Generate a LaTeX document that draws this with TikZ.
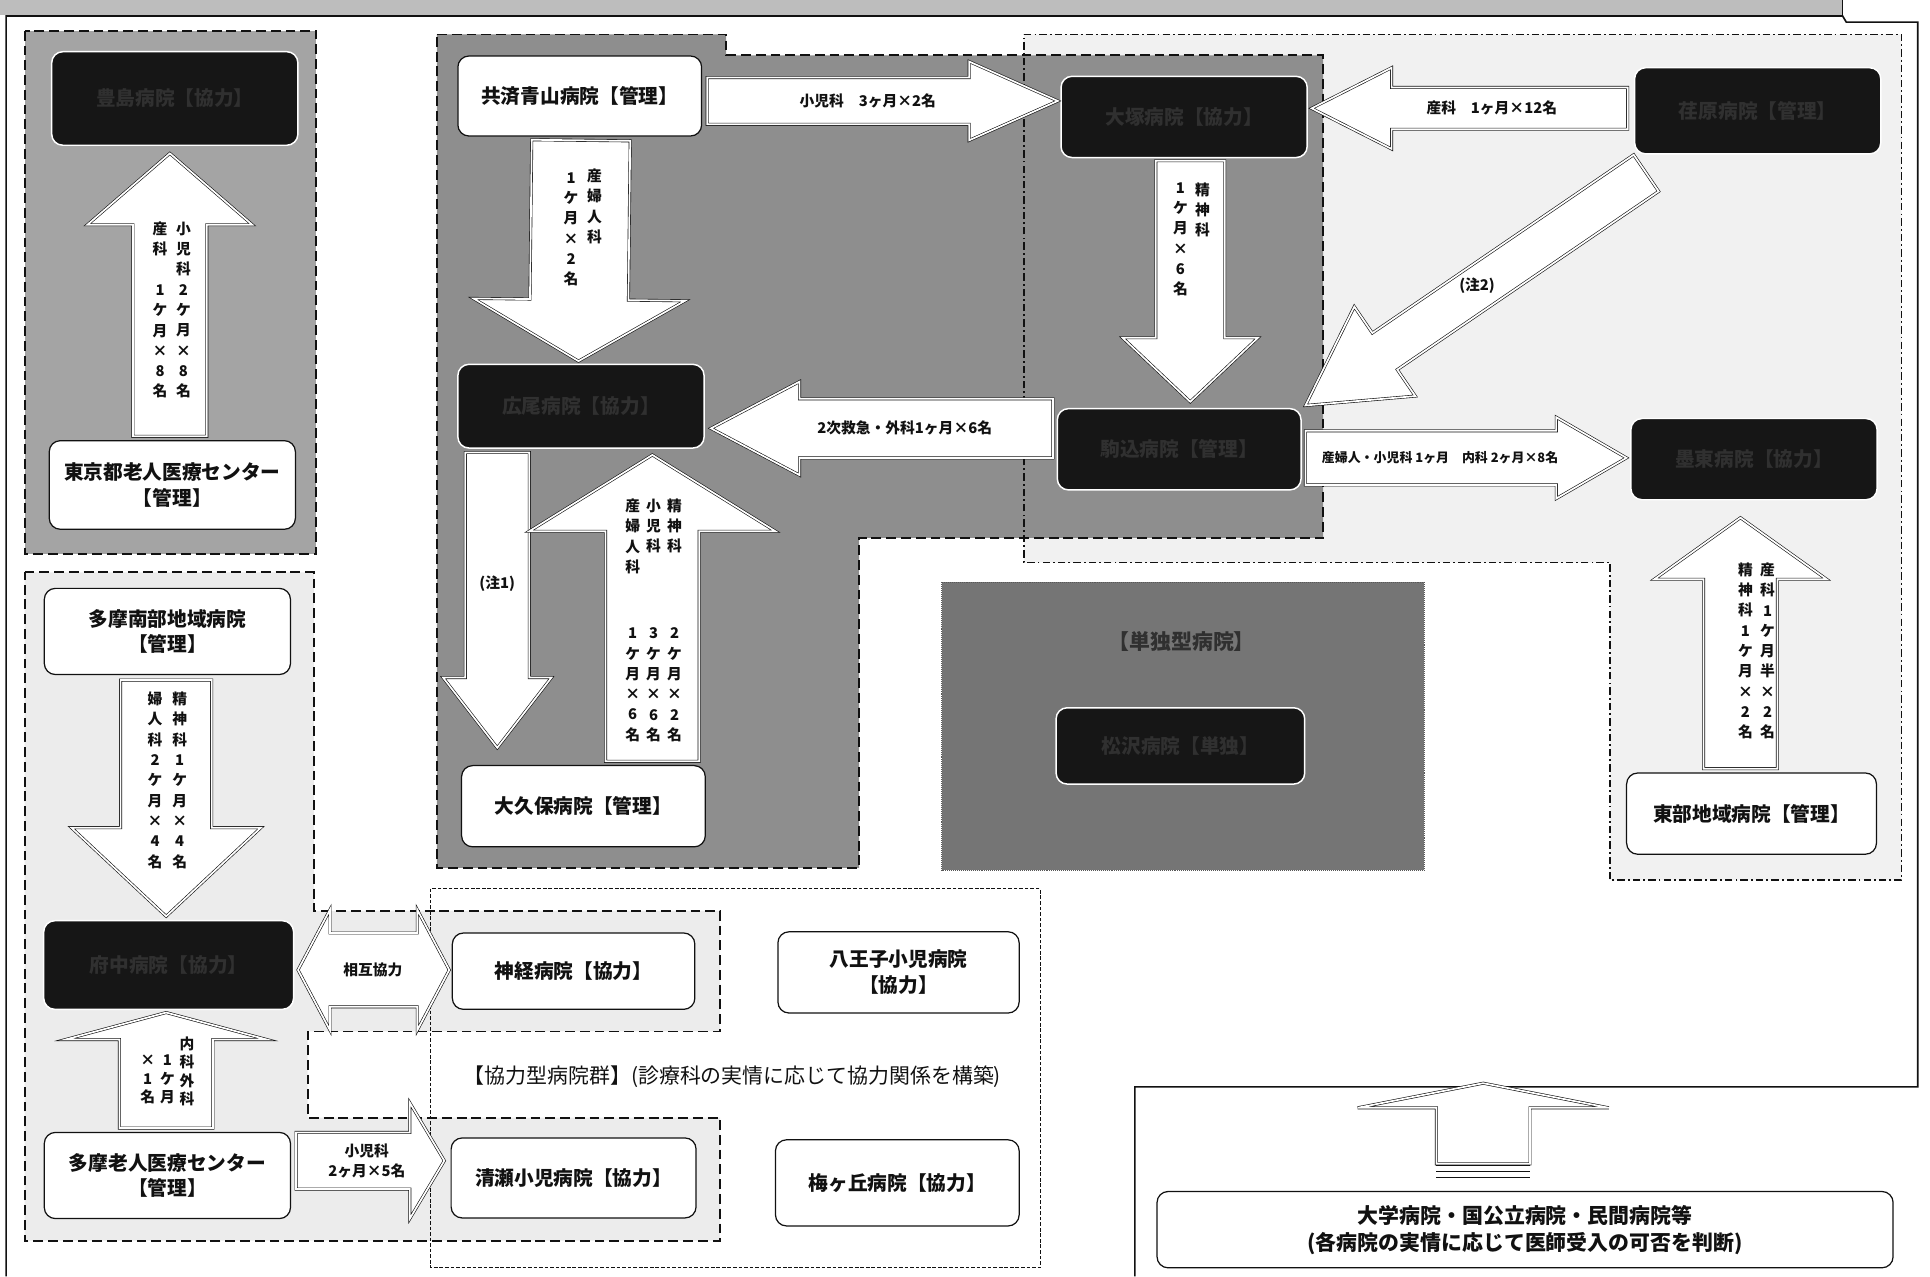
\documentclass[tikz,border=0pt]{standalone}
\usepackage{fontspec}
\setmainfont{Noto Sans CJK JP}
\usetikzlibrary{calc,positioning}
\definecolor{tinta}{HTML}{111111}
\definecolor{oscuro}{HTML}{161616}
\definecolor{letraosc}{HTML}{303030}
\definecolor{grisgrupo}{HTML}{A4A4A4}
\definecolor{griscentro}{HTML}{8E8E8E}
\definecolor{grisclaro}{HTML}{ECECEC}
\definecolor{grismuyclaro}{HTML}{F1F1F1}
\definecolor{grisunico}{HTML}{757575}
\definecolor{grisbanda}{HTML}{BDBDBD}
\tikzset{
  hosp/.style={draw=tinta,fill=white,rounded corners=9pt,line width=1pt,align=center,minimum width=198pt,minimum height=66pt,inner sep=2pt,font=\fontsize{16}{21}\selectfont\bfseries,text=tinta},
  hospnegro/.style={draw=white,fill=oscuro,rounded corners=9pt,line width=1.2pt,minimum width=200pt,minimum height=68pt,inner sep=2pt,font=\fontsize{16}{21}\selectfont\bfseries,text=letraosc},
  etiq/.style={inner sep=0pt,align=center,font=\fontsize{12}{16}\selectfont\bfseries,text=tinta},
  vert/.style={inner sep=0pt,anchor=north,align=center,font=\fontsize{12}{16.5}\selectfont\bfseries,text=tinta},
  marco/.style={draw=tinta,line width=1.3pt},
  grupo/.style={draw=tinta,line width=1.5pt,dash pattern=on 8pt off 4pt},
  grupopunto/.style={draw=tinta,line width=1.1pt,dash pattern=on 6pt off 2.5pt on 1.5pt off 2.5pt},
  grupofino/.style={draw=tinta,line width=0.7pt,dash pattern=on 3pt off 1.5pt},
  tallo/.store in=\tallo, punta/.store in=\punta, largo/.store in=\largo,
  tallo=20pt, punta=40pt, largo=50pt,
  flecha/.style={draw=tinta,fill=white,line width=0.5pt,double=white,double distance=1.4pt,
    to path={let \p1=(\tikztostart),\p2=(\tikztotarget),\n1={atan2(\y2-\y1,\x2-\x1)},\n2={veclen(\x2-\x1,\y2-\y1)} in
      ($(\p1)+(\n1+90:\tallo)$) -- ($(\p1)+(\n1:\n2-\largo)+(\n1+90:\tallo)$) -- ($(\p1)+(\n1:\n2-\largo)+(\n1+90:\punta)$) -- (\p2)
      -- ($(\p1)+(\n1:\n2-\largo)+(\n1-90:\punta)$) -- ($(\p1)+(\n1:\n2-\largo)+(\n1-90:\tallo)$) -- ($(\p1)+(\n1-90:\tallo)$) -- cycle}},
  flechadoble/.style={draw=tinta,fill=white,line width=0.5pt,double=white,double distance=1.4pt,
    to path={let \p1=(\tikztostart),\p2=(\tikztotarget),\n1={atan2(\y2-\y1,\x2-\x1)},\n2={veclen(\x2-\x1,\y2-\y1)} in
      (\p1) -- ($(\p1)+(\n1:\largo)+(\n1+90:\punta)$) -- ($(\p1)+(\n1:\largo)+(\n1+90:\tallo)$) -- ($(\p1)+(\n1:\n2-\largo)+(\n1+90:\tallo)$) -- ($(\p1)+(\n1:\n2-\largo)+(\n1+90:\punta)$) -- (\p2)
      -- ($(\p1)+(\n1:\n2-\largo)+(\n1-90:\punta)$) -- ($(\p1)+(\n1:\n2-\largo)+(\n1-90:\tallo)$) -- ($(\p1)+(\n1:\largo)+(\n1-90:\tallo)$) -- ($(\p1)+(\n1:\largo)+(\n1-90:\punta)$) -- cycle}},
}
\begin{document}
\begin{tikzpicture}[x=1pt,y=-1pt]
\useasboundingbox (0,0) rectangle (1568,1037);
\fill[grisbanda] (0,0) rectangle (1497,12);
\draw[marco] (5,1037) -- (5,13) -- (1497,13) -- (1500,18) -- (1558,18) -- (1558,883) -- (922,883) -- (922,1037);
\draw[marco] (1497,0) -- (1497,13);
\fill[grismuyclaro] (832,28) -- (1545,28) -- (1545,715) -- (1308,715) -- (1308,457) -- (832,457) -- cycle;
\filldraw[grupo,fill=grisgrupo] (20,25) rectangle (257,450);
\filldraw[grupo,fill=griscentro] (355,28) -- (590,28) -- (590,45) -- (1075,45) -- (1075,437) -- (698,437) -- (698,705) -- (355,705) -- cycle;
\draw[grupopunto] (832,28) -- (1545,28) -- (1545,715) -- (1308,715) -- (1308,457) -- (832,457) -- cycle;
\filldraw[grupo,fill=grisclaro] (20,465) -- (255,465) -- (255,740) -- (585,740) -- (585,838) -- (250,838) -- (250,908) -- (585,908) -- (585,1008) -- (20,1008) -- cycle;
\draw[grupofino] (350,722) rectangle (845,1030);
\filldraw[fill=grisunico,draw=tinta!70,densely dotted,line width=0.6pt] (765,473) rectangle (1157,707);

\node[hospnegro,minimum height=76pt] (toshima) at (142,80) {豊島病院【協力】};
\node[hosp,minimum width=200pt,minimum height=72pt] (rojin) at (140,394) {東京都老人医療センター\\【管理】};
\node[hosp,minimum height=65pt] (aoyama) at (471,78) {共済青山病院【管理】};
\node[hospnegro] (hiroo) at (472,330) {広尾病院【協力】};
\node[hosp] (okubo) at (474,655) {大久保病院【管理】};
\node[hospnegro,minimum height=66pt] (otsuka) at (962,95) {大塚病院【協力】};
\node[hospnegro,minimum width=198pt,minimum height=66pt] (komagome) at (958,365) {駒込病院【管理】};
\node[hospnegro,minimum height=70pt] (ebara) at (1428,90) {荏原病院【管理】};
\node[hospnegro,minimum height=66pt] (bokuto) at (1425,373) {墨東病院【協力】};
\node[hosp,minimum width=203pt] (tobu) at (1423,661) {東部地域病院【管理】};
\node[hospnegro,minimum width=202pt,minimum height=62pt] (matsuzawa) at (959,606) {松沢病院【単独】};
\node[hosp,minimum width=200pt,minimum height=70pt] (tamanan) at (136,513) {多摩南部地域病院\\【管理】};
\node[hospnegro,minimum width=203pt,minimum height=72pt] (fuchu) at (137,784) {府中病院【協力】};
\node[hosp,minimum width=200pt,minimum height=70pt] (tamarojin) at (136,955) {多摩老人医療センター\\【管理】};
\node[hosp,minimum width=197pt,minimum height=62pt] (shinkei) at (466,789) {神経病院【協力】};
\node[hosp,minimum width=196pt] (hachioji) at (730,790) {八王子小児病院\\【協力】};
\node[hosp,minimum width=199pt,minimum height=65pt] (kiyose) at (466,957) {清瀬小児病院【協力】};
\node[hosp,minimum height=70pt] (umegaoka) at (729,961) {梅ヶ丘病院【協力】};
\node[hosp,minimum width=598pt,minimum height=62pt,font=\fontsize{17}{22}\selectfont\bfseries] (daigaku) at (1239,999) {大学病院・国公立病院・民間病院等\\(各病院の実情に応じて医師受入の可否を判断)};
\coordinate (tope) at (1205,880);

\draw[flecha,tallo=30pt,punta=67pt,largo=58pt] ($(rojin.north)+(-2,-3)$) to ($(toshima.south)+(-4,6)$);
\draw[flecha,tallo=19pt,punta=32pt,largo=72pt] ($(aoyama.east)+(4,4)$) to ($(otsuka.west)+(-2,-13)$);
\draw[flecha,tallo=40pt,punta=86pt,largo=50pt] ($(aoyama.south)+(1,3)$) to ($(hiroo.north)+(-2,-2)$);
\draw[flecha,tallo=24pt,punta=38pt,largo=72pt] ($(komagome.west)+(-3,-17)$) to ($(hiroo.east)+(5,18)$);
\draw[flecha,tallo=26pt,punta=44pt,largo=57pt] ($(hiroo.south)+(-68,3)$) to ($(okubo.north)+(-70,-14)$);
\draw[flecha,tallo=38pt,punta=100pt,largo=62pt] ($(okubo.north)+(56,-3)$) to ($(hiroo.south)+(58,5)$);
\draw[flecha,tallo=17pt,punta=33pt,largo=65pt] ($(ebara.west)+(-5,-2)$) to ($(otsuka.east)+(3,-7)$);
\draw[flecha,tallo=28pt,punta=55pt,largo=52pt] ($(otsuka.south)+(5,2)$) to ($(komagome.north)+(9,-5)$);
\draw[flecha,tallo=18pt,punta=44pt,largo=78pt] ($(ebara.south west)+(10,15)$) to ($(komagome.north east)+(3,-2)$);
\draw[flecha,tallo=22pt,punta=33pt,largo=57pt] ($(komagome.east)+(3,7)$) to ($(bokuto.west)+(-3,-1)$);
\draw[flecha,tallo=30pt,punta=70pt,largo=50pt] ($(tobu.north)+(-9,-3)$) to ($(bokuto.south)+(-11,14)$);
\draw[flecha,tallo=37pt,punta=77pt,largo=72pt] ($(tamanan.south)+(-1,4)$) to ($(fuchu.north)+(-2,-3)$);
\draw[flecha,tallo=38pt,punta=82pt,largo=22pt] ($(tamarojin.north)+(-1,-3)$) to ($(fuchu.south)+(-2,2)$);
\draw[flechadoble,tallo=30pt,punta=49pt,largo=26pt] ($(fuchu.east)+(3,4)$) to ($(shinkei.west)+(-2,-1)$);
\draw[flecha,tallo=23pt,punta=47pt,largo=28pt] ($(tamarojin.east)+(4,-12)$) to ($(kiyose.west)+(-5,-14)$);
\draw[flecha,tallo=38pt,punta=102pt,largo=20pt] ($(daigaku.north)+(-34,-22)$) to (tope);
\draw[tinta,line width=0.8pt] ($(daigaku.north)+(-72,-21)$) -- ++(76,0);
\draw[tinta,line width=0.8pt] ($(daigaku.north)+(-72,-16)$) -- ++(76,0);
\draw[tinta,line width=0.8pt] ($(daigaku.north)+(-72,-11)$) -- ++(76,0);

\node[vert] (t-toshima1) at (130,180) {産\\科\\[16.5pt]1\\ケ\\月\\×\\8\\名};
\node[vert] (t-toshima2) at (149,180) {小\\児\\科\\2\\ケ\\月\\×\\8\\名};
\node[etiq] (t-otsuka1) at (705,82) {小児科\quad 3ヶ月×2名};
\node[vert] (t-hiroo1) at (483,137) {産\\婦\\人\\科};
\node[vert] (t-hiroo2) at (464,140) {1\\ケ\\月\\×\\2\\名};
\node[etiq] (t-hiroo3) at (735,348) {2次救急・外科1ヶ月×6名};
\node[etiq] (t-nota1) at (404,474) {(注1)};
\node[vert] (t-okubo1) at (548,405) {精\\神\\科};
\node[vert] (t-okubo2) at (531,405) {小\\児\\科};
\node[vert] (t-okubo3) at (514,405) {産\\婦\\人\\科};
\node[vert] (t-okubo4) at (548,510) {2\\ケ\\月\\×\\2\\名};
\node[vert] (t-okubo5) at (531,510) {3\\ケ\\月\\×\\6\\名};
\node[vert] (t-okubo6) at (514,510) {1\\ケ\\月\\×\\6\\名};
\node[etiq] (t-ebara) at (1212,88) {産科\quad 1ヶ月×12名};
\node[vert] (t-otsuka2) at (977,148) {精\\神\\科};
\node[vert] (t-otsuka3) at (959,148) {1\\ケ\\月\\×\\6\\名};
\node[etiq] (t-nota2) at (1200,232) {(注2)};
\node[etiq,font=\fontsize{10.5}{13}\selectfont\bfseries] (t-bokuto1) at (1170,372) {産婦人・小児科 1ヶ月\quad 内科 2ヶ月×8名};
\node[vert] (t-bokuto2) at (1436,457) {産\\科\\1\\ケ\\月\\半\\×\\2\\名};
\node[vert] (t-bokuto3) at (1418,457) {精\\神\\科\\1\\ケ\\月\\×\\2\\名};
\node[vert] (t-fuchu1) at (146,562) {精\\神\\科\\1\\ケ\\月\\×\\4\\名};
\node[vert] (t-fuchu2) at (126,562) {婦\\人\\科\\2\\ケ\\月\\×\\4\\名};
\node[vert,font=\fontsize{12}{15}\selectfont\bfseries] (t-fuchu3) at (152,842) {内\\科\\外\\科};
\node[vert,font=\fontsize{12}{15}\selectfont\bfseries] (t-fuchu4) at (136,857) {1\\ケ\\月};
\node[vert,font=\fontsize{12}{15}\selectfont\bfseries] (t-fuchu5) at (120,857) {×\\1\\名};
\node[etiq] (t-sogo) at (303,788) {相互協力};
\node[etiq] (t-kiyose) at (298,943) {小児科\\2ヶ月×5名};
\node[etiq,font=\fontsize{17}{21}\selectfont] (t-kyoryoku) at (595,875) {【協力型病院群】(診療科の実情に応じて協力関係を構築)};
\node[etiq,font=\fontsize{17}{21}\selectfont\bfseries,text=letraosc] (t-tandoku) at (960,521) {【単独型病院】};
\end{tikzpicture}
\end{document}
